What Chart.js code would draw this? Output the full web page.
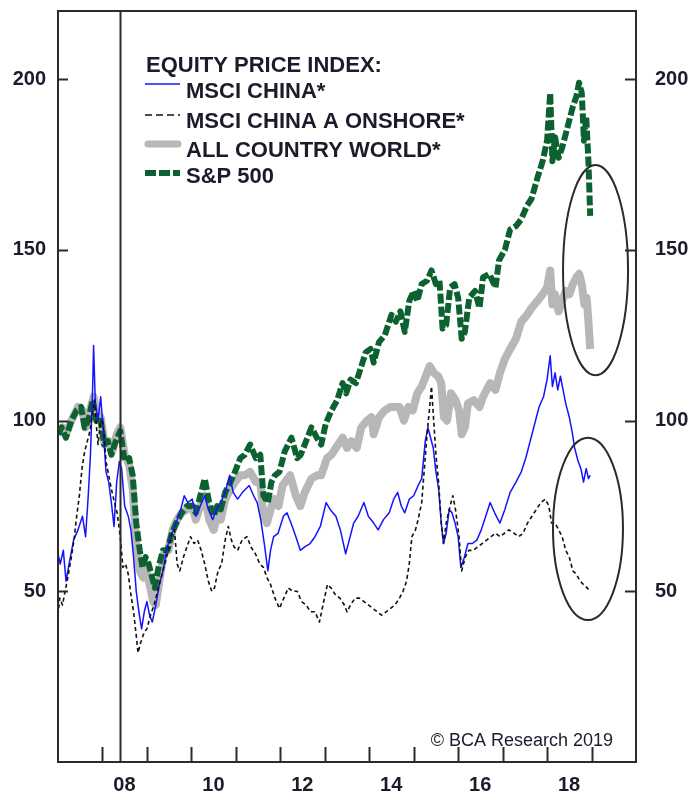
<!DOCTYPE html>
<html>
<head>
<meta charset="utf-8">
<script src="https://cdn.jsdelivr.net/npm/chart.js@4.4.1/dist/chart.umd.min.js"></script>
<style>
  html, body { margin: 0; padding: 0; background: #ffffff; }
  #wrap { width: 689px; height: 795px; }
</style>
</head>
<body>
<div id="wrap"><canvas id="c" width="689" height="795"></canvas></div>
<script>
// ---------------- DATA (decimal years, index values) ----------------
const legendTitle = "EQUITY PRICE INDEX:";
const seriesNames = ["MSCI CHINA*", "MSCI CHINA A ONSHORE*", "ALL COUNTRY WORLD*", "S&P 500"];
const yTickValues = [50, 100, 150, 200];
const xLabelYears = [2008, 2010, 2012, 2014, 2016, 2018];
const xTickYears = [2008, 2009, 2010, 2011, 2012, 2013, 2014, 2015, 2016, 2017, 2018, 2019];
const markerYear = 2008.40;
const copyrightText = "\u00A9 BCA Research 2019";

const chinaDates = [2007.00,2007.05,2007.12,2007.18,2007.25,2007.35,2007.45,2007.55,2007.62,2007.68,2007.73,2007.78,2007.80,2007.84,2007.90,2007.96,2008.03,2008.08,2008.14,2008.20,2008.26,2008.32,2008.38,2008.43,2008.50,2008.58,2008.64,2008.70,2008.76,2008.82,2008.88,2008.94,2009.00,2009.06,2009.12,2009.20,2009.28,2009.36,2009.44,2009.52,2009.60,2009.68,2009.76,2009.84,2009.92,2010.02,2010.10,2010.20,2010.30,2010.38,2010.48,2010.56,2010.66,2010.76,2010.86,2010.94,2011.04,2011.15,2011.30,2011.40,2011.48,2011.56,2011.64,2011.72,2011.78,2011.85,2011.95,2012.07,2012.15,2012.24,2012.35,2012.45,2012.55,2012.67,2012.78,2012.90,2013.03,2013.12,2013.25,2013.35,2013.47,2013.55,2013.65,2013.75,2013.88,2013.98,2014.10,2014.20,2014.32,2014.45,2014.55,2014.64,2014.72,2014.80,2014.90,2015.00,2015.10,2015.18,2015.26,2015.32,2015.38,2015.44,2015.50,2015.56,2015.62,2015.67,2015.73,2015.80,2015.86,2015.93,2016.00,2016.06,2016.14,2016.22,2016.32,2016.42,2016.52,2016.62,2016.72,2016.82,2016.94,2017.05,2017.17,2017.30,2017.42,2017.52,2017.62,2017.72,2017.82,2017.92,2018.00,2018.07,2018.12,2018.18,2018.24,2018.30,2018.36,2018.42,2018.50,2018.56,2018.62,2018.70,2018.76,2018.82,2018.88,2018.93,2018.97];
const chinaValues = [61,58,62,53,58,65,68,72,66,78,90,110,122,105,100,107,95,85,82,76,69,82,88,86,75,72,68,60,50,44,39,44,47,43,41,46,52,56,62,66,68,71,74,78,76,77,72,75,78,74,71,74,76,79,84,79,77,79,81,78,76,71,64,56,62,66,67,72,73,70,66,62,63,64,66,69,76,74,72,68,61,65,70,72,76,72,70,68,71,73,77,79,75,73,77,78,81,83,94,98,95,92,85,80,70,64,67,74,73,70,66,57,60,64,64,65,68,72,76,73,70,74,79,82,85,89,94,99,104,107,112,119,110,114,109,113,109,105,101,97,92,88,86,82,86,83,84];

const chinaADates = [2007.00,2007.04,2007.10,2007.16,2007.22,2007.30,2007.36,2007.42,2007.48,2007.54,2007.60,2007.66,2007.72,2007.78,2007.82,2007.86,2007.90,2007.96,2008.02,2008.08,2008.14,2008.20,2008.27,2008.33,2008.40,2008.46,2008.52,2008.58,2008.64,2008.70,2008.76,2008.80,2008.86,2008.94,2009.00,2009.08,2009.16,2009.24,2009.32,2009.40,2009.48,2009.56,2009.62,2009.68,2009.74,2009.82,2009.90,2009.98,2010.06,2010.14,2010.22,2010.30,2010.38,2010.46,2010.52,2010.60,2010.68,2010.76,2010.83,2010.90,2010.96,2011.04,2011.14,2011.25,2011.34,2011.44,2011.54,2011.62,2011.70,2011.78,2011.88,2011.98,2012.08,2012.18,2012.28,2012.38,2012.48,2012.58,2012.68,2012.78,2012.88,2012.96,2013.06,2013.14,2013.24,2013.34,2013.44,2013.50,2013.58,2013.68,2013.78,2013.88,2013.98,2014.08,2014.18,2014.28,2014.38,2014.48,2014.58,2014.68,2014.76,2014.84,2014.90,2014.96,2015.04,2015.10,2015.18,2015.24,2015.30,2015.36,2015.40,2015.44,2015.50,2015.56,2015.62,2015.67,2015.73,2015.80,2015.88,2015.94,2016.02,2016.08,2016.16,2016.24,2016.34,2016.44,2016.54,2016.64,2016.74,2016.84,2016.94,2017.04,2017.14,2017.26,2017.36,2017.46,2017.56,2017.66,2017.76,2017.86,2017.96,2018.04,2018.10,2018.18,2018.26,2018.34,2018.42,2018.50,2018.58,2018.66,2018.74,2018.82,2018.90,2018.97];
const chinaAValues = [43,48,46,50,54,60,65,72,78,86,91,94,97,102,106,99,93,100,99,88,84,80,76,73,66,57,58,55,49,44,37,32,35,38,39,43,46,50,54,58,62,67,68,58,56,60,63,66,64,65,62,58,53,50,51,56,58,65,69,65,63,62,65,66,63,61,58,57,54,52,48,45,48,51,50,50,47,46,44,44,41,46,52,51,49,48,46,44,46,48,48,47,46,45,44,43,44,45,46,48,50,53,58,66,68,71,76,86,96,104,110,102,90,82,70,64,70,74,78,74,66,56,60,62,62,63,64,65,66,67,66,67,68,67,66,67,70,72,74,76,77,75,70,70,68,66,62,60,56,55,53,52,51,50];

const acwiDates = [2007.00,2007.10,2007.18,2007.30,2007.45,2007.55,2007.62,2007.72,2007.80,2007.88,2007.96,2008.05,2008.14,2008.22,2008.32,2008.40,2008.50,2008.60,2008.68,2008.76,2008.84,2008.92,2008.98,2009.06,2009.14,2009.20,2009.28,2009.38,2009.48,2009.58,2009.68,2009.78,2009.90,2010.02,2010.10,2010.20,2010.30,2010.40,2010.50,2010.58,2010.66,2010.76,2010.88,2010.98,2011.10,2011.20,2011.32,2011.45,2011.55,2011.62,2011.70,2011.78,2011.86,2011.96,2012.05,2012.22,2012.35,2012.45,2012.55,2012.70,2012.83,2012.92,2013.05,2013.15,2013.30,2013.40,2013.50,2013.60,2013.72,2013.82,2013.95,2014.05,2014.10,2014.22,2014.35,2014.48,2014.58,2014.68,2014.78,2014.88,2014.98,2015.08,2015.18,2015.30,2015.36,2015.45,2015.55,2015.62,2015.68,2015.75,2015.84,2015.94,2016.02,2016.08,2016.15,2016.22,2016.35,2016.48,2016.56,2016.72,2016.84,2016.94,2017.05,2017.17,2017.30,2017.42,2017.55,2017.65,2017.78,2017.90,2018.00,2018.07,2018.12,2018.18,2018.26,2018.34,2018.42,2018.50,2018.58,2018.66,2018.72,2018.78,2018.84,2018.89,2018.93,2018.97];
const acwiValues = [96,98,96,100,104,103,98,103,107,102,101,93,94,91,96,98,90,87,80,64,56,54,57,52,47,46,53,61,62,68,71,73,74,75,71,75,78,71,68,72,71,77,80,82,84,84,85,82,82,72,70,74,77,75,81,84,78,75,79,83,84,84,89,90,93,95,92,94,92,98,100,101,96,101,103,104,104,104,100,104,103,108,110,114,116,114,113,111,101,100,108,106,103,96,98,105,106,104,107,111,109,114,118,121,124,129,131,133,135,137,139,144,134,137,132,135,138,137,140,142,143,140,134,136,129,121];

const spDates = [2007.00,2007.08,2007.18,2007.30,2007.42,2007.52,2007.60,2007.68,2007.78,2007.86,2007.95,2008.04,2008.12,2008.20,2008.30,2008.40,2008.50,2008.60,2008.68,2008.76,2008.84,2008.90,2008.97,2009.04,2009.12,2009.18,2009.26,2009.36,2009.46,2009.56,2009.66,2009.78,2009.90,2010.02,2010.10,2010.20,2010.30,2010.40,2010.50,2010.58,2010.66,2010.76,2010.88,2010.98,2011.10,2011.20,2011.32,2011.45,2011.55,2011.62,2011.72,2011.80,2011.88,2011.98,2012.10,2012.25,2012.38,2012.46,2012.58,2012.70,2012.82,2012.92,2013.02,2013.15,2013.28,2013.40,2013.48,2013.58,2013.70,2013.80,2013.92,2014.03,2014.10,2014.22,2014.35,2014.50,2014.60,2014.70,2014.80,2014.90,2015.00,2015.08,2015.18,2015.30,2015.40,2015.50,2015.58,2015.65,2015.73,2015.82,2015.92,2016.00,2016.08,2016.15,2016.25,2016.38,2016.48,2016.56,2016.70,2016.84,2016.92,2017.05,2017.17,2017.30,2017.42,2017.55,2017.65,2017.78,2017.90,2018.00,2018.07,2018.12,2018.18,2018.26,2018.34,2018.42,2018.50,2018.58,2018.66,2018.72,2018.78,2018.83,2018.88,2018.93,2018.97];
const spValues = [96,98,95,100,103,104,98,100,106,100,101,93,94,90,94,97,88,89,84,70,62,57,60,58,54,51,57,62,62,67,70,73,75,75,73,78,83,76,72,75,74,79,82,85,89,90,93,89,90,78,76,82,84,85,91,95,89,90,94,98,95,93,99,103,106,111,108,112,111,115,120,121,117,123,125,131,129,132,126,135,138,135,140,141,144,140,141,127,128,139,140,136,124,126,136,138,133,142,143,139,147,150,156,157,159,163,165,171,176,182,196,176,183,177,180,184,188,192,195,199,196,182,189,176,160];

// ---------------- CHART ----------------
function pts(xs, ys) { return xs.map((x, i) => ({ x: x, y: ys[i] })); }

const FONT = '"Liberation Sans", Arial, sans-serif';
const TEXT_COLOR = '#1b1b2b';

const overlay = {
  id: 'overlay',
  afterDatasetsDraw(chart) {
    const ctx = chart.ctx;
    const xs = chart.scales.x, yl = chart.scales.y;
    ctx.save();
    const ellipses = [
      { cx: 2019.09, cy: 144.1, rx: 0.731, ry: 30.8 },
      { cx: 2018.92, cy: 68.3, rx: 0.787, ry: 26.7 }
    ];
    ctx.strokeStyle = '#2a2a2a';
    ctx.lineWidth = 2;
    ellipses.forEach(e => {
      const px = xs.getPixelForValue(e.cx), py = yl.getPixelForValue(e.cy);
      const prx = Math.abs(xs.getPixelForValue(e.cx + e.rx) - px);
      const pry = Math.abs(yl.getPixelForValue(e.cy + e.ry) - py);
      ctx.beginPath();
      ctx.ellipse(px, py, prx, pry, 0, 0, Math.PI * 2);
      ctx.stroke();
    });
    ctx.restore();
  },
  afterDraw(chart) {
    const ctx = chart.ctx;
    const xs = chart.scales.x, yl = chart.scales.y, ca = chart.chartArea;
    ctx.save();
    ctx.strokeStyle = '#2b2b2b';
    ctx.lineWidth = 2;
    ctx.strokeRect(ca.left, ca.top, ca.right - ca.left, ca.bottom - ca.top);
    yTickValues.forEach(v => {
      const py = Math.round(yl.getPixelForValue(v)) + 0.5;
      ctx.beginPath();
      ctx.moveTo(ca.left, py); ctx.lineTo(ca.left + 10, py);
      ctx.moveTo(ca.right, py); ctx.lineTo(ca.right - 11, py);
      ctx.stroke();
    });
    xTickYears.forEach(v => {
      const px = Math.round(xs.getPixelForValue(v)) + 0.5;
      ctx.beginPath();
      ctx.moveTo(px, ca.bottom); ctx.lineTo(px, ca.bottom - 15);
      ctx.stroke();
    });
    const mx = Math.round(xs.getPixelForValue(markerYear)) + 0.5;
    ctx.beginPath();
    ctx.moveTo(mx, ca.top); ctx.lineTo(mx, ca.bottom);
    ctx.stroke();

    // legend
    ctx.fillStyle = TEXT_COLOR;
    ctx.font = 'bold 22px ' + FONT;
    ctx.textAlign = 'left';
    ctx.textBaseline = 'alphabetic';
    ctx.fillText(legendTitle, 146, 72);
    const baselines = [98, 128, 157, 183];
    const swY = [84, 115, 144, 173];
    seriesNames.forEach((n, i) => ctx.fillText(n, 186, baselines[i]));
    ctx.lineCap = 'butt';
    ctx.strokeStyle = '#1414ff'; ctx.lineWidth = 1.5; ctx.setLineDash([]);
    ctx.beginPath(); ctx.moveTo(145, swY[0]); ctx.lineTo(180, swY[0]); ctx.stroke();
    ctx.strokeStyle = '#111111'; ctx.lineWidth = 1.5; ctx.setLineDash([7, 4]);
    ctx.beginPath(); ctx.moveTo(145, swY[1]); ctx.lineTo(180, swY[1]); ctx.stroke();
    ctx.strokeStyle = '#b7b7b7'; ctx.lineWidth = 7; ctx.setLineDash([]); ctx.lineCap = 'round';
    ctx.beginPath(); ctx.moveTo(148, swY[2]); ctx.lineTo(178, swY[2]); ctx.stroke();
    ctx.strokeStyle = '#0c6130'; ctx.lineWidth = 6; ctx.lineCap = 'butt'; ctx.setLineDash([11, 3]);
    ctx.beginPath(); ctx.moveTo(145, swY[3]); ctx.lineTo(180, swY[3]); ctx.stroke();
    ctx.setLineDash([]);

    ctx.fillStyle = TEXT_COLOR;
    ctx.font = '18px ' + FONT;
    ctx.textAlign = 'right';
    ctx.fillText(copyrightText, 613, 746);
    ctx.restore();
  }
};

const yTickCb = v => (yTickValues.includes(v) ? String(v) : '');
const noPad = s => { s.paddingTop = 0; s.paddingBottom = 0; };
const tickFont = { family: FONT, size: 20, weight: 'bold' };

new Chart(document.getElementById('c'), {
  type: 'line',
  data: {
    datasets: [
      { label: seriesNames[1], data: pts(chinaADates, chinaAValues), borderColor: '#111111', borderWidth: 1.6, borderDash: [4, 3], order: 1 },
      { label: seriesNames[0], data: pts(chinaDates, chinaValues), borderColor: '#1414ff', borderWidth: 1.5, order: 2 },
      { label: seriesNames[3], data: pts(spDates, spValues), borderColor: '#0c6130', borderWidth: 6, borderDash: [10, 3], order: 3 },
      { label: seriesNames[2], data: pts(acwiDates, acwiValues), borderColor: '#b7b7b7', borderWidth: 8, order: 4 }
    ]
  },
  options: {
    responsive: false,
    animation: false,
    devicePixelRatio: 1,
    elements: { point: { radius: 0 }, line: { tension: 0, fill: false, borderJoinStyle: 'round' } },
    layout: { padding: { top: 11, left: 0, right: 0, bottom: 0 } },
    plugins: { legend: { display: false }, tooltip: { enabled: false } },
    scales: {
      x: {
        type: 'linear', min: 2007, max: 2020,
        grid: { display: false, drawTicks: false },
        border: { display: false },
        afterFit: s => { s.height = 33; s.paddingLeft = 0; s.paddingRight = 0; },
        ticks: {
          stepSize: 1, autoSkip: false, maxRotation: 0, padding: 11, labelOffset: 22,
          color: TEXT_COLOR, font: tickFont,
          callback: v => (xLabelYears.includes(v) ? String(v).slice(2) : '')
        }
      },
      y: {
        position: 'left', min: 0, max: 220,
        grid: { display: false, drawTicks: false },
        border: { display: false },
        afterFit: s => { s.width = 58; noPad(s); },
        ticks: { stepSize: 50, padding: 12, color: TEXT_COLOR, font: tickFont, callback: yTickCb }
      },
      y2: {
        position: 'right', min: 0, max: 220,
        grid: { display: false, drawTicks: false },
        border: { display: false },
        afterFit: s => { s.width = 53; noPad(s); },
        ticks: { stepSize: 50, padding: 19, color: TEXT_COLOR, font: tickFont, callback: yTickCb }
      }
    }
  },
  plugins: [overlay]
});
</script>
</body>
</html>
